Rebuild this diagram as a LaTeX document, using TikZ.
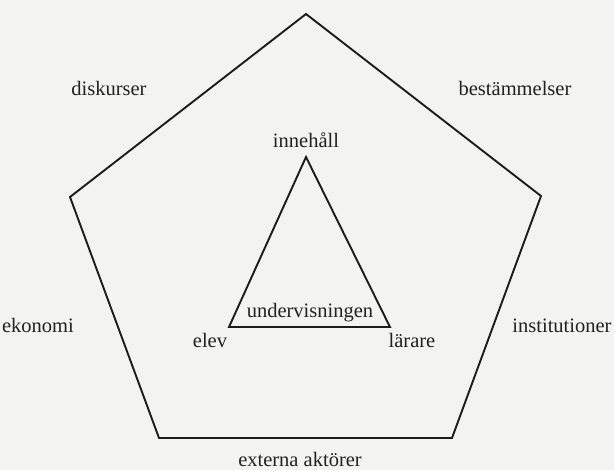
\documentclass[tikz,border=0pt]{standalone}
\usepackage{fontspec}
\setmainfont{Liberation Serif}
\usepackage{xcolor}
\usepackage{tikz}
\usetikzlibrary{positioning}
\definecolor{PaperGray}{HTML}{F3F3F1}
\definecolor{LineBlack}{HTML}{1C1C1C}
\definecolor{TextBlack}{HTML}{222222}

\begin{document}
\begin{tikzpicture}[
  x=1pt,y=-1pt,
  edge/.style={draw=LineBlack,line width=1.9pt,line join=miter},
  lbl/.style={font=\fontsize{20.5}{24}\selectfont,text=TextBlack,inner sep=0pt,anchor=base}
]
\fill[PaperGray] (0,0) rectangle (614,470);
\useasboundingbox (0,0) rectangle (614,470);
% outer frame
\coordinate (pTop) at (306,14);
\coordinate (pRight) at (541,196);
\coordinate (pBotR) at (452,438);
\coordinate (pBotL) at (159,438);
\coordinate (pLeft) at (70,197);
\draw[edge] (pTop) -- (pRight) -- (pBotR) -- (pBotL) -- (pLeft) -- cycle;
% didactic triangle
\coordinate (tTop) at (306,157);
\coordinate (tRight) at (390,327);
\coordinate (tLeft) at (229,327);
\draw[edge] (tTop) -- (tRight) -- (tLeft) -- cycle;
% labels
\node[lbl] (innehall) at (306,148) {innehåll};
\node[lbl] (undervisning) at (310,318) {undervisningen};
\node[lbl] (elev) at (210,348) {elev};
\node[lbl] (larare) at (412,348) {lärare};
\node[lbl] (diskurser) at (109,96) {diskurser};
\node[lbl] (bestammelser) at (515,96) {bestämmelser};
\node[lbl] (ekonomi) at (38,333) {ekonomi};
\node[lbl] (institutioner) at (562,333) {institutioner};
\node[lbl] (externa) at (300,467) {externa aktörer};
\end{tikzpicture}
\end{document}
